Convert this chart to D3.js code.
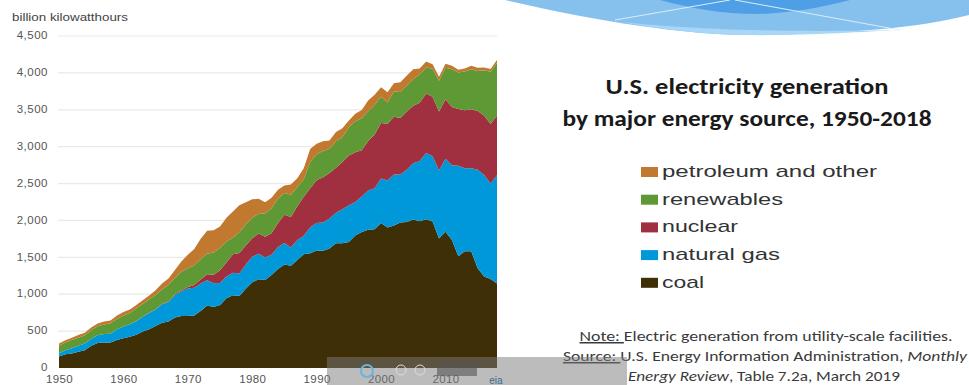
<!DOCTYPE html>
<html>
<head>
  <meta charset="utf-8">
  <title>U.S. electricity generation by major energy source</title>
  <script src="https://d3js.org/d3.v7.min.js"></script>
  <style>
    body { margin: 0; background: #fff; }
    svg { display: block; }
  </style>
</head>
<body>
<script>
// billion kilowatthours, 1950-2018
var startYear = 1950;
var coal = [154.5,185.2,195.4,218.8,239.1,301.4,338.5,346.4,344.4,378.4,
  403.1,422.2,450.2,493.9,526.2,570.9,613.5,630.5,684.9,706.0,
  704.4,713.1,771.1,847.7,828.4,852.8,944.4,985.2,975.7,1075.0,
  1161.6,1203.2,1192.0,1259.4,1341.7,1402.1,1385.8,1463.8,1540.7,1554.0,
  1594.0,1590.6,1621.2,1690.1,1690.7,1709.4,1795.2,1845.0,1873.5,1881.1,
  1966.3,1904.0,1933.1,1973.7,1978.3,2012.9,1990.5,2016.5,1985.8,1755.9,
  1847.3,1733.4,1514.0,1581.1,1581.7,1352.4,1239.1,1205.8,1146.0];
var naturalGas = [44.6,56.6,72.3,81.1,93.1,95.3,104.2,114.4,120.1,147.2,
  157.9,169.3,184.3,202.0,220.0,221.6,251.2,264.8,304.4,333.3,
  372.9,374.0,375.7,340.9,320.1,299.8,294.6,305.5,305.4,329.5,
  346.2,345.8,305.3,274.1,297.4,291.9,248.5,272.6,252.8,352.8,
  372.8,381.6,404.1,414.9,460.2,496.1,455.1,479.4,531.3,556.4,
  601.0,639.1,691.0,649.9,710.1,761.0,816.4,896.6,883.0,921.0,
  987.7,1013.7,1225.9,1124.8,1126.6,1333.5,1378.3,1296.4,1468.2];
var nuclear = [0,0,0,0,0,0,0,0.01,0.2,0.2,
  0.5,1.7,2.3,3.2,3.3,3.7,5.5,7.7,12.5,13.9,
  21.8,38.1,54.1,83.5,114.0,172.5,191.1,250.9,276.4,255.2,
  251.1,272.7,282.8,293.7,327.6,383.7,414.0,455.3,527.0,529.4,
  576.9,612.6,618.8,610.3,640.4,673.4,674.7,628.6,673.7,728.3,
  753.9,768.8,780.1,763.7,788.5,782.0,787.2,806.4,806.2,798.9,
  807.0,790.2,769.3,789.0,797.2,797.2,805.7,805.0,807.1];
var renewables = [100.9,104.4,110.2,109.6,112.0,116.2,123.0,130.2,140.2,138.6,
  149.4,152.6,169.0,166.7,177.3,194.4,195.3,222.5,222.5,250.6,
  251.0,269.1,275.4,275.3,304.2,303.2,287.0,223.0,283.8,284.2,
  281.0,266.3,318.5,337.1,329.1,295.1,301.3,261.9,237.9,356.0,
  357.2,356.8,327.8,357.2,336.7,384.8,420.0,433.6,401.2,399.3,
  356.5,287.7,343.1,355.3,351.5,357.7,385.8,352.7,380.9,417.7,
  427.4,513.2,494.6,522.5,545.2,541.9,611.3,708.3,713.8];
var petroleumOther = [33.7,29.6,31.2,37.0,35.1,37.1,36.9,39.6,38.5,45.9,
  48.0,48.5,48.7,52.0,57.0,64.8,79.6,89.3,104.3,138.3,
  184.2,220.2,274.3,314.3,300.9,289.1,320.0,358.2,365.1,303.5,
  246.0,206.4,146.8,144.5,119.8,100.2,136.6,118.5,148.9,175.0,
  140.0,133.0,113.0,126.0,120.0,92.0,100.0,112.0,146.0,137.0,
  127.0,138.0,111.0,131.0,137.0,137.0,80.0,82.0,62.0,54.0,
  55.0,46.0,38.0,42.0,46.0,43.0,40.0,36.0,40.0];

var seriesKeys = ["coal", "natural gas", "nuclear", "renewables", "petroleum and other"];
var seriesColors = ["#3e2f06", "#0098d8", "#a0303f", "#5e9936", "#c0792f"];
var legendOrder = ["petroleum and other", "renewables", "nuclear", "natural gas", "coal"];
var yTicks = [0, 500, 1000, 1500, 2000, 2500, 3000, 3500, 4000, 4500];
var xTicks = [1950, 1960, 1970, 1980, 1990, 2000, 2010];

var years = d3.range(startYear, startYear + coal.length);
var table = years.map(function(y, i) {
  return {
    year: y,
    "coal": coal[i],
    "natural gas": naturalGas[i],
    "nuclear": nuclear[i],
    "renewables": renewables[i],
    "petroleum and other": petroleumOther[i]
  };
});

var width = 969, height = 385;
var svg = d3.select("body").append("svg")
    .attr("width", width)
    .attr("height", height);

// slide decoration, top right
var deco = svg.append("g");
deco.append("path")
    .attr("d", "M505,0 C600,22 690,36 760,35 C840,34 920,28 969,15 L969,0 Z")
    .attr("fill", "#86c1ee");
deco.append("path")
    .attr("d", "M660,0 L850,0 C820,8 790,13 760,14 C720,14 690,8 660,0 Z")
    .attr("fill", "#4f9fe6");
deco.append("path")
    .attr("d", "M620,22 C680,28 760,33 900,30 C860,32 800,36 740,35 C700,34 660,29 620,22 Z")
    .attr("fill", "#a7d6f6");
deco.append("path")
    .attr("d", "M615,20 L730,0 M735,0 L900,30")
    .attr("stroke", "#d9ecfb").attr("stroke-width", 1).attr("fill", "none");

var x = d3.scaleLinear().domain([1950, 2018]).range([59, 497]);
var y = d3.scaleLinear().domain([0, 4500]).range([368, 36]);

// gridlines
svg.append("g")
    .selectAll("line")
    .data(yTicks.slice(1))
    .join("line")
    .attr("x1", 58).attr("x2", 497)
    .attr("y1", function(d) { return y(d); })
    .attr("y2", function(d) { return y(d); })
    .attr("stroke", "#e9e9e9")
    .attr("stroke-width", 1.2);

var stack = d3.stack().keys(seriesKeys);
var layers = stack(table);
var color = d3.scaleOrdinal().domain(seriesKeys).range(seriesColors);

var area = d3.area()
    .x(function(d) { return x(d.data.year); })
    .y0(function(d) { return y(d[0]); })
    .y1(function(d) { return y(d[1]); });

svg.append("g")
    .selectAll("path")
    .data(layers)
    .join("path")
    .attr("fill", function(d) { return color(d.key); })
    .attr("d", area);

// axes
var yAxis = svg.append("g")
    .attr("transform", "translate(48,-1)")
    .call(d3.axisLeft(y).tickValues(yTicks).tickSize(0).tickPadding(0).tickFormat(d3.format(",")));
yAxis.select(".domain").remove();
yAxis.selectAll("text")
    .attr("font-family", "Liberation Sans, Arial, sans-serif")
    .attr("font-size", 11.5)
    .attr("letter-spacing", 0.5)
    .attr("fill", "#555");

var xAxis = svg.append("g")
    .attr("transform", "translate(0,374.5)")
    .call(d3.axisBottom(x).tickValues(xTicks).tickSize(0).tickPadding(0).tickFormat(d3.format("d")));
xAxis.select(".domain").remove();
xAxis.selectAll("text")
    .attr("font-family", "Liberation Sans, Arial, sans-serif")
    .attr("font-size", 11.5)
    .attr("letter-spacing", 0.4)
    .attr("fill", "#555");

svg.append("text")
    .attr("x", 12).attr("y", 21)
    .attr("font-family", "Liberation Sans, Arial, sans-serif")
    .attr("font-size", 11)
    .attr("textLength", 116)
    .attr("lengthAdjust", "spacingAndGlyphs")
    .attr("fill", "#444")
    .text("billion kilowatthours");

// title
var titleLines = [
  {t: "U.S. electricity generation", y: 94, w: 283},
  {t: "by major energy source, 1950-2018", y: 126, w: 369}
];
svg.append("g").selectAll("text")
    .data(titleLines)
    .join("text")
    .attr("x", 747)
    .attr("y", function(d) { return d.y; })
    .attr("text-anchor", "middle")
    .attr("font-family", "Carlito, Lato, sans-serif")
    .attr("font-weight", 700)
    .attr("font-size", 22.5)
    .attr("textLength", function(d) { return d.w; })
    .attr("lengthAdjust", "spacingAndGlyphs")
    .attr("fill", "#1a1a1a")
    .text(function(d) { return d.t; });

// legend
var legendWidths = {"petroleum and other": 215, "renewables": 121, "nuclear": 76, "natural gas": 118, "coal": 42};
var legend = svg.append("g")
    .selectAll("g")
    .data(legendOrder)
    .join("g")
    .attr("transform", function(d, i) { return "translate(641," + (167 + i * 27.7) + ")"; });
legend.append("rect")
    .attr("width", 17).attr("height", 10)
    .attr("fill", function(d) { return color(d); });
legend.append("text")
    .attr("x", 21).attr("y", 10)
    .attr("font-family", "Liberation Sans, Arial, sans-serif")
    .attr("font-size", 17)
    .attr("textLength", function(d) { return legendWidths[d]; })
    .attr("lengthAdjust", "spacingAndGlyphs")
    .attr("fill", "#333")
    .text(function(d) { return d; });

// note and source
var note = svg.append("g")
    .attr("font-family", "Carlito, Lato, sans-serif")
    .attr("font-size", 15)
    .attr("fill", "#3a3a3a")
    .attr("text-anchor", "middle");
var l1 = note.append("text").attr("x", 766).attr("y", 341)
    .attr("textLength", 373).attr("lengthAdjust", "spacingAndGlyphs");
l1.append("tspan").attr("text-decoration", "underline").text("Note: ");
l1.append("tspan").text("Electric generation from utility-scale facilities.");
var l2 = note.append("text").attr("x", 765).attr("y", 361)
    .attr("textLength", 404).attr("lengthAdjust", "spacingAndGlyphs");
l2.append("tspan").attr("text-decoration", "underline").text("Source: ");
l2.append("tspan").text("U.S. Energy Information Administration, ");
l2.append("tspan").attr("font-style", "italic").text("Monthly");
var l3 = note.append("text").attr("x", 764).attr("y", 381)
    .attr("textLength", 272).attr("lengthAdjust", "spacingAndGlyphs");
l3.append("tspan").attr("font-style", "italic").text("Energy Review");
l3.append("tspan").text(", Table 7.2a, March 2019");

// viewer toolbar overlay
var bar = svg.append("g");
bar.append("rect")
    .attr("x", 327).attr("y", 357).attr("width", 300).attr("height", 28)
    .attr("fill", "#7a7a7a").attr("opacity", 0.5);
bar.append("rect")
    .attr("x", 437).attr("y", 362).attr("width", 40).attr("height", 14)
    .attr("fill", "#555").attr("opacity", 0.6);
[401, 420].forEach(function(cx) {
  bar.append("circle").attr("cx", cx).attr("cy", 370).attr("r", 5)
      .attr("fill", "none").attr("stroke", "#ddd").attr("stroke-width", 1);
});
bar.append("circle").attr("cx", 367).attr("cy", 371).attr("r", 6)
    .attr("fill", "none").attr("stroke", "#6ab3e0").attr("stroke-width", 2);
bar.append("text").attr("x", 496).attr("y", 384).attr("text-anchor", "middle")
    .attr("font-family", "Liberation Sans, Arial, sans-serif").attr("font-size", 10)
    .attr("fill", "#3a6e8c").text("eia");
</script>
</body>
</html>
